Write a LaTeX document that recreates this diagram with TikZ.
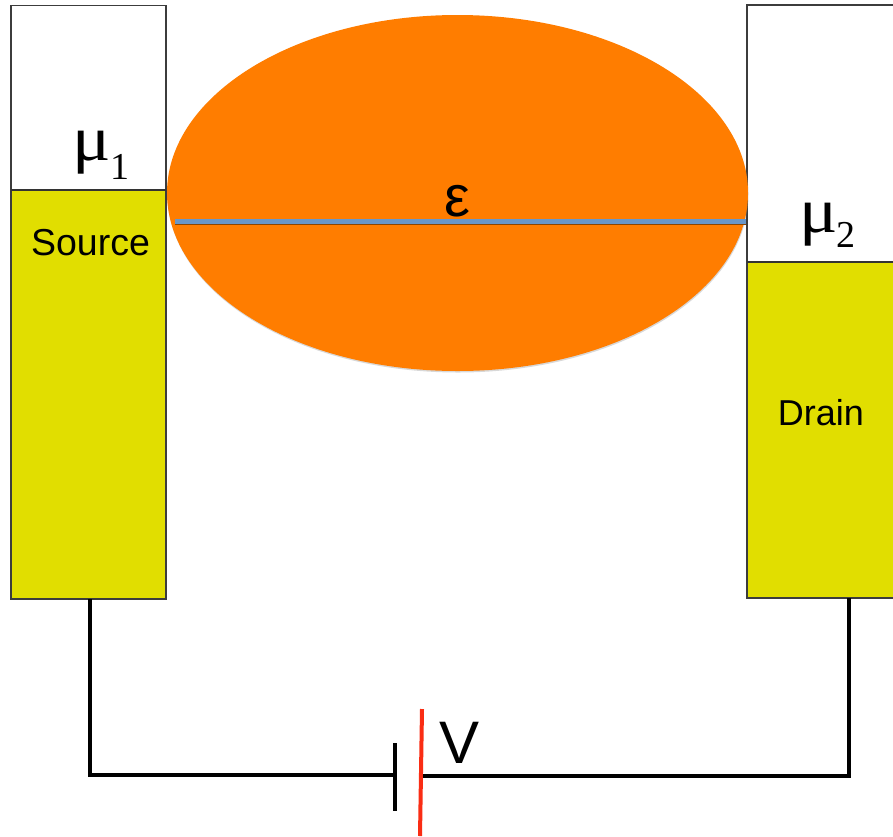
\documentclass[tikz,border=0pt]{standalone}
\usepackage{fontspec}
\setmainfont{Liberation Sans}
\newfontfamily\serifgreek{Liberation Serif}
\usetikzlibrary{shapes.geometric,shadows}
\definecolor{metal}{RGB}{225,222,0}
\definecolor{dot}{RGB}{255,125,0}
\definecolor{level}{RGB}{105,150,200}
\definecolor{edge}{RGB}{60,60,60}
\definecolor{plus}{RGB}{250,45,20}
\tikzset{
  x=1pt,y=-1pt,
  box/.style={draw=edge,line width=1.6pt,rectangle,inner sep=0pt,outer sep=0pt,anchor=north west},
  metalbox/.style={box,fill=metal},
  emptybox/.style={box,fill=white},
  wire/.style={draw=black,line width=3.6pt,line join=miter},
  biglabel/.style={inner sep=0pt,text=black},
  widemu/.style={biglabel,xscale=1.12},
}
\newcommand{\lab}[2]{\fontsize{#1}{#1}\selectfont #2}
\begin{document}
\begin{tikzpicture}
\useasboundingbox (0,0) rectangle (893,836);
\fill[white] (0,0) rectangle (893,836);
\coordinate (sw) at (90,599);
\coordinate (dw) at (849,598);
\coordinate (neg) at (395,775);
\coordinate (pos) at (421,776);
\coordinate (negtop) at (395,743);
\coordinate (negbot) at (395,811);
\coordinate (postop) at (422,709);
\coordinate (posbot) at (420,836);
% boxes
\node[emptybox,minimum width=155pt,minimum height=184pt] (swhite) at (11,5.5) {};
\node[metalbox,minimum width=155pt,minimum height=409pt] (source) at (11,190) {};
\draw[draw=black!80,line width=2.2pt] (source.north west) -- (source.north east);
\begin{scope}
\clip (0,0) rectangle (893,836);
\node[emptybox,minimum width=160pt,minimum height=257pt] (dwhite) at (747,5) {};
\node[metalbox,minimum width=160pt,minimum height=336pt] (drain) at (747,262) {};
\draw[draw=black!80,line width=2pt] (drain.north west) -- (drain.north east);
\end{scope}
% ellipse
\node[ellipse,fill=dot,inner sep=0pt,minimum width=581pt,minimum height=356pt,
  drop shadow={shadow xshift=0.5pt,shadow yshift=-1.5pt,opacity=.3}] (dotshape) at (457.5,193) {};
\coordinate (ll) at (175,221);
\coordinate (lr) at (746,221);
\draw[draw=black!45!dot,line width=2pt] ([yshift=-3pt]ll) -- ([yshift=-3pt]lr);
\draw[draw=level,line width=5pt] (ll) -- (lr);
% circuit
\draw[wire] (sw) |- (neg);
\draw[wire] (negtop) -- (negbot);
\draw[wire] (dw) |- (pos);
\draw[draw=plus,line width=4pt] (postop) -- (posbot);
% text
\node[biglabel,anchor=base] (src) at (90.5,255) {\lab{37.5}{Source}};
\node[biglabel,anchor=base] (drn) at (821,425) {\lab{36}{Drain}};
\node[biglabel,anchor=base] (eps) at (457.5,216) {\lab{58}{ε}};
\node[biglabel,anchor=base] (volt) at (459.5,763) {\lab{60}{V}};
\node[widemu,anchor=base] (mu1) at (92,160) {\serifgreek\lab{64}{μ}};
\node[biglabel,anchor=base west] (sub1) at (110,179) {\serifgreek\lab{38}{1}};
\node[widemu,anchor=base] (mu2) at (819,232) {\serifgreek\lab{64}{μ}};
\node[biglabel,anchor=base west] (sub2) at (836,247) {\serifgreek\lab{38}{2}};
\end{tikzpicture}
\end{document}
